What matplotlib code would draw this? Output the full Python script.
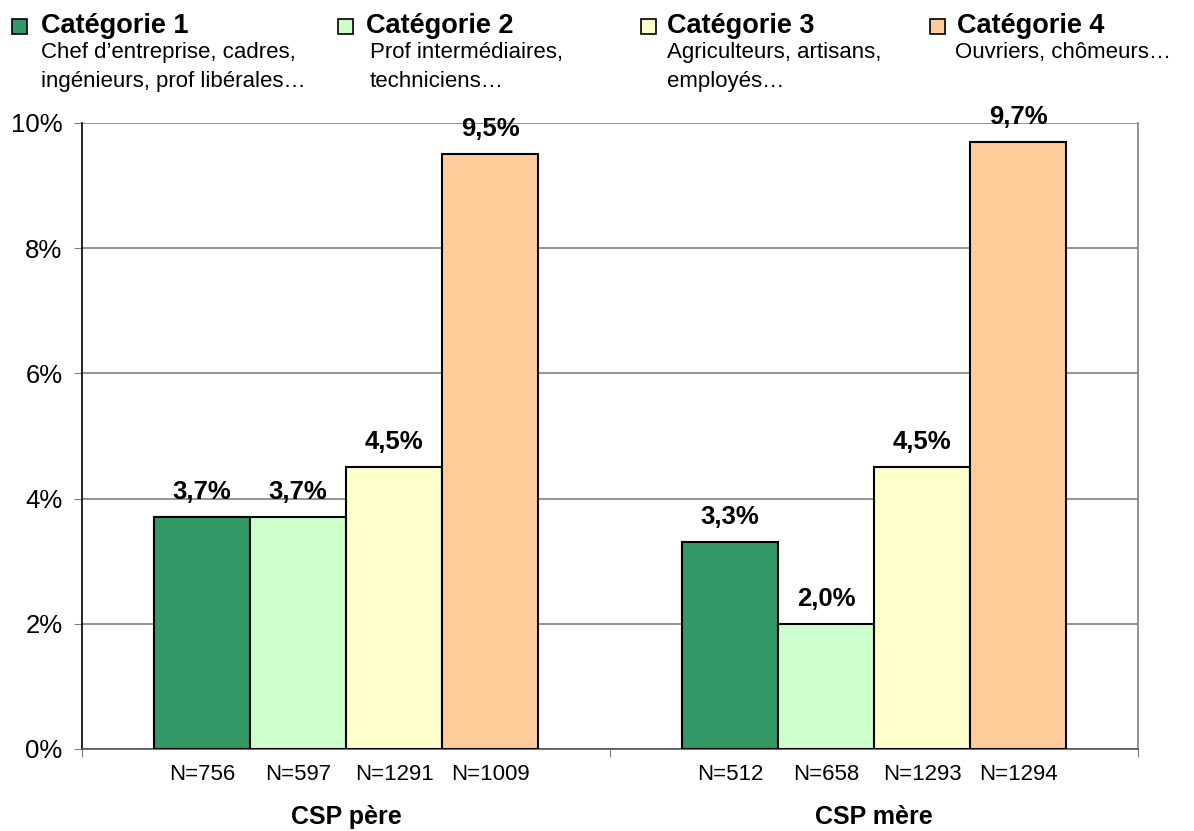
import matplotlib.pyplot as plt
from matplotlib.patches import Rectangle

plt.rcParams['font.family'] = ['Liberation Sans', 'DejaVu Sans']

groups = ['CSP père', 'CSP mère']
categories = ['Catégorie 1', 'Catégorie 2', 'Catégorie 3', 'Catégorie 4']
descriptions = [['Chef d\u2019entreprise, cadres,', 'ingénieurs, prof libérales\u2026'],
                ['Prof intermédiaires,', 'techniciens\u2026'],
                ['Agriculteurs, artisans,', 'employés\u2026'],
                ['Ouvriers, chômeurs\u2026']]
colors = ['#339966', '#CCFFCC', '#FFFFCC', '#FFCC99']
pere = [3.7, 3.7, 4.5, 9.5]
mere = [3.3, 2.0, 4.5, 9.7]
n_pere = [756, 597, 1291, 1009]
n_mere = [512, 658, 1293, 1294]

W, H = 1194, 831
fig = plt.figure(figsize=(W / 100, H / 100), dpi=100)
ax = fig.add_axes([82 / W, 1 - 749 / H, (1138 - 82) / W, (749 - 123) / H])

width = 0.182
for g, (vals, ns) in enumerate([(pere, n_pere), (mere, n_mere)]):
    for i in range(4):
        x = g + (i - 1.5) * width
        ax.bar(x, vals[i], width, color=colors[i], edgecolor='black', linewidth=1.5, zorder=3)
        ax.annotate(('%.1f%%' % vals[i]).replace('.', ','), (x, vals[i]),
                    xytext=(0, 13), textcoords='offset points', ha='center', va='baseline',
                    fontsize=18.5, fontweight='bold')
        ax.annotate('N=%d' % ns[i], (x, 0), xytext=(0, -18), textcoords='offset points',
                    ha='center', va='center', fontsize=16)
    ax.annotate(groups[g], (g, 0), xytext=(0, -49), textcoords='offset points',
                ha='center', va='center', fontsize=18, fontweight='bold')

ax.set_xlim(-0.5, 1.5)
ax.set_ylim(0, 10)
ax.set_yticks(range(0, 11, 2))
ax.set_yticklabels(['%d%%' % v for v in range(0, 11, 2)], fontsize=18.5)
ax.set_xticks([-0.5, 0.5, 1.5])
ax.set_xticklabels([])
ax.tick_params(axis='x', length=6, color='#808080')
ax.tick_params(axis='y', length=6, color='#808080', pad=8)
ax.grid(axis='y', color='#808080', linewidth=1.2, zorder=0)
ax.spines['left'].set_color('black')
ax.spines['bottom'].set_color('#555555')
ax.spines['right'].set_color('#808080')
ax.spines['top'].set_visible(False)
for s in ['left', 'bottom', 'right']:
    ax.spines[s].set_linewidth(1.2)

# legend at top
sq_x = [12, 338, 641, 930]
txt_x = [41, 366, 667, 957]
sub_x = [41, 370, 667, 955]
for i in range(4):
    fig.patches.append(Rectangle((sq_x[i] / W, 1 - 34 / H), 15 / W, 15 / H,
                                 transform=fig.transFigure, facecolor=colors[i],
                                 edgecolor='black', linewidth=1.2))
    fig.text(txt_x[i] / W, 1 - 33 / H, categories[i], fontsize=19.5, fontweight='bold',
             va='baseline', ha='left')
    for k, line in enumerate(descriptions[i]):
        fig.text(sub_x[i] / W, 1 - (58 + 29 * k) / H, line, fontsize=16,
                 va='baseline', ha='left')

fig.savefig('out.png', dpi=100)
